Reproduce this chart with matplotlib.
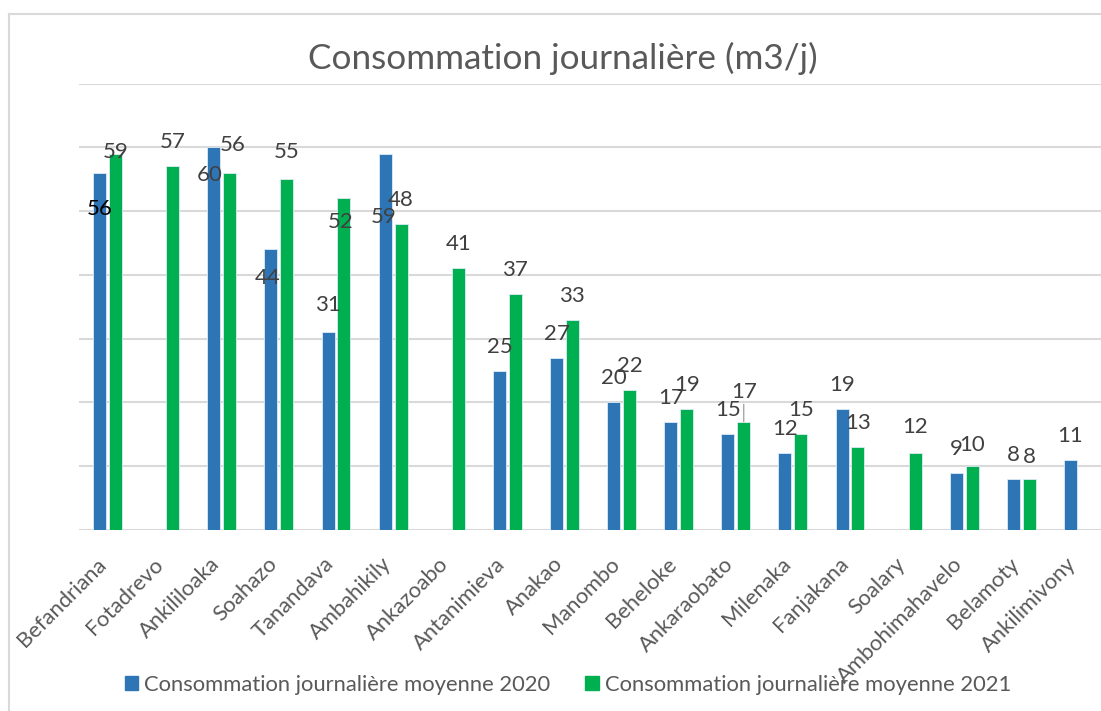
import matplotlib
matplotlib.use('Agg')
import matplotlib.pyplot as plt
import numpy as np

plt.rcParams['font.family'] = ['Lato', 'DejaVu Sans']

communes = ['Befandriana', 'Fotadrevo', 'Ankililoaka', 'Soahazo', 'Tanandava',
            'Ambahikily', 'Ankazoabo', 'Antanimieva', 'Anakao', 'Manombo',
            'Beheloke', 'Ankaraobato', 'Milenaka', 'Fanjakana', 'Soalary',
            'Ambohimahavelo', 'Belamoty', 'Ankilimivony']
conso_2020 = [56, None, 60, 44, 31, 59, None, 25, 27, 20, 17, 15, 12, 19, None, 9, 8, 11]
conso_2021 = [59, 57, 56, 55, 52, 48, 41, 37, 33, 22, 19, 17, 15, 13, 12, 10, 8, None]

bleu = '#2E75B6'
vert = '#00B050'
gris_txt = '#595959'
gris_lbl = '#404040'
gris_grille = '#D9D9D9'

# decalages (pixels) des etiquettes deplacees a la main
decal_2020 = {0: (0, -36), 2: (-4, -28), 3: (-3, -29), 4: (0, 27), 5: (-2, -63)}
decal_2021 = {0: (0, 2), 2: (3, 28), 3: (0, 27), 4: (-3, -24), 11: (0, 30),
              14: (0, 26), 15: (0, 21), 16: (0, 22)}

fig = plt.figure(figsize=(11.01, 7.11), dpi=100)
ax = fig.add_axes([79 / 1101, 181 / 711, 1028 / 1101, 446.5 / 711])

x = np.arange(len(communes))
larg = 0.228
dec = 0.139

for serie, sign, coul, decal in [(conso_2020, -1, bleu, decal_2020),
                                 (conso_2021, 1, vert, decal_2021)]:
    for i, v in enumerate(serie):
        if v is None:
            continue
        xc = x[i] + sign * dec
        ax.bar(xc, v, width=larg, color=coul, edgecolor='#DDEBF7', linewidth=0.6, zorder=3)
        dx, dy = decal.get(i, (0, 24))
        props = None
        if coul == vert and i == 11:
            props = dict(arrowstyle='-', color='#A6A6A6', lw=1, shrinkA=0, shrinkB=0)
        ax.annotate(str(v), xy=(xc, v), xytext=(dx, dy), textcoords='offset pixels',
                    ha='center', va='center', fontsize=16,
                    color='black' if (i == 0 and coul == bleu) else gris_lbl,
                    arrowprops=props, zorder=4)

ax.set_xlim(-0.5, len(communes) - 0.5)
ax.set_ylim(0, 70)
ax.set_yticks(np.arange(0, 71, 10))
ax.yaxis.grid(True, color=gris_grille, linewidth=1.5, zorder=0)
ax.tick_params(axis='y', left=False, labelleft=False)
ax.tick_params(axis='x', bottom=False, labelbottom=False)
for s in ['top', 'right', 'left', 'bottom']:
    ax.spines[s].set_visible(False)

# noms des communes en diagonale
for i, nom in enumerate(communes):
    ax.text(x[i], 0, nom, rotation=45, rotation_mode='anchor', ha='right', va='center',
            fontsize=15.8, color=gris_txt,
            transform=ax.get_xaxis_transform() +
            matplotlib.transforms.ScaledTranslation(-0.05, -0.31, fig.dpi_scale_trans))

fig.text(563 / 1101, 1 - 58 / 711, 'Consommation journalière (m3/j)', ha='center', va='center',
         fontsize=25.3, color=gris_txt)

h1 = plt.Rectangle((0, 0), 1, 1, color=bleu)
h2 = plt.Rectangle((0, 0), 1, 1, color=vert)
leg = fig.legend([h1, h2], ['Consommation journalière moyenne 2020',
                            'Consommation journalière moyenne 2021'],
                 loc='center', bbox_to_anchor=(568 / 1101, 1 - 685 / 711), ncol=2,
                 frameon=False, fontsize=15.8, handlelength=0.6, handleheight=0.6,
                 handletextpad=0.28, columnspacing=1.6)
for t in leg.get_texts():
    t.set_color(gris_txt)

# cadre du graphique
fig.add_artist(plt.Line2D([9 / 1101, 9 / 1101], [0, 1 - 13.5 / 711], color=gris_grille, lw=1.5))
fig.add_artist(plt.Line2D([9 / 1101, 1], [1 - 13.5 / 711, 1 - 13.5 / 711], color=gris_grille, lw=1.5))

fig.savefig('out.png', dpi=100)
